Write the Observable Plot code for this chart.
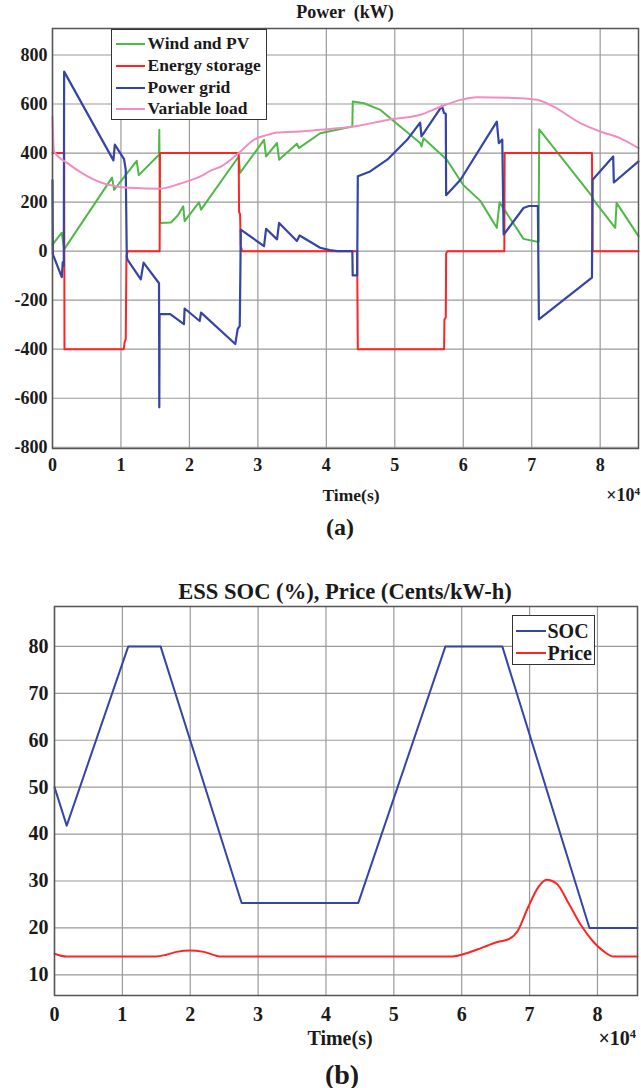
<!DOCTYPE html>
<html><head><meta charset="utf-8">
<script src="https://cdn.jsdelivr.net/npm/d3@7"></script>
<script src="https://cdn.jsdelivr.net/npm/@observablehq/plot@0.6"></script>
<style>
body{margin:0;background:#fff;width:641px;height:1088px;position:relative;overflow:hidden;
 font-family:"Liberation Serif","Times New Roman",serif;font-weight:bold;color:#1a1a1a;}
.t{position:absolute;white-space:pre;line-height:1;transform:translate(-50%,-50%);}
.r{position:absolute;white-space:pre;line-height:1;transform:translate(-100%,-50%);}
.leg{position:absolute;border:1.4px solid #333;background:#fff;box-sizing:border-box;}
.row{position:absolute;left:0;white-space:pre;line-height:1;}
</style></head><body>
<div id="topChart" style="position:absolute;left:0;top:0"></div>
<div id="botChart" style="position:absolute;left:0;top:560px"></div>
<script>
// ---------- data ----------
const timeTicks = [0, 10000, 20000, 30000, 40000, 50000, 60000, 70000, 80000];
const powerTicks = [-800, -600, -400, -200, 0, 200, 400, 600, 800];
const socTicks = [10, 20, 30, 40, 50, 60, 70, 80];

// Power (kW): [time s, kW]
const windPV = [[0,27],[1360,75],[1700,7],[8700,300],[9000,250],[12300,368],[12600,310],[15550,393],[15600,495],[15700,115],
 [17300,117],[18300,145],[19100,183],[19300,122],[21400,199],[21700,169],[27200,386],[27400,319],[30900,454],[31200,386],
 [32800,441],[33100,373],[35700,438],[36000,420],[39100,481],[43800,508],[43860,610],[45500,603],[47900,576],[50800,508],
 [53700,441],[53900,427],[54200,460],[57600,373],[60000,270],[62500,205],[64900,95],[65300,199],[68800,50],[70800,38],
 [71000,38],[71100,497],[78800,224],[79000,210],[82200,95],[82400,197],[85600,61]];
const energyStorage = [[0,400],[1700,400],[1750,-400],[10400,-400],[10550,-370],[10700,-360],[10800,-20],[11000,0],
 [15650,0],[15700,400],[27200,400],[27250,160],[27400,150],[27500,20],[27700,0],[44500,0],[44600,-400],[57200,-400],
 [57250,-280],[57450,-270],[57500,-10],[57700,0],[66000,0],[66050,400],[78800,400],[78900,0],[85600,0]];
const powerGrid = [[0,290],[50,-13],[1360,-106],[1500,-45],[1650,-60],[1700,732],[8900,370],[9100,434],[10450,375],
 [10700,332],[10850,-20],[10950,-35],[12900,-115],[13300,-47],[15560,-131],[15600,-637],[15640,-257],[17200,-257],
 [19200,-298],[19300,-234],[21500,-285],[21700,-251],[26700,-379],[27050,-318],[27350,-305],[27450,-68],[27500,88],
 [30900,20],[31200,91],[32800,48],[33100,115],[35700,41],[36100,64],[39100,14],[40500,4],[41600,0],[43800,0],[43850,-99],
 [44500,-99],[44600,305],[46400,325],[48900,373],[51800,454],[53700,524],[53900,468],[56900,592],[57200,563],[57450,560],
 [57500,228],[59600,291],[64900,528],[65200,440],[65700,455],[65900,68],[66200,78],[68800,176],[69600,184],[70900,184],
 [71050,-278],[78800,-108],[78900,291],[81900,386],[82000,280],[85600,366]];
const variableLoad = [[0,549],[230,406],[2190,359],[4500,315],[7050,280],[9000,266],[12000,257],[15550,254],[18700,276],
 [21600,305],[23100,328],[24600,345],[27200,400],[29400,454],[31400,474],[32800,484],[36200,488],[39100,495],[44000,508],
 [48900,535],[53700,556],[56700,589],[59600,617],[62000,628],[68300,624],[70800,617],[73200,589],[77100,522],[80000,488],
 [82900,461],[85600,420]];

// SOC (%) and price (cents/kWh): [time s, value]
const soc = [[0,50],[1800,41.8],[10870,80],[15630,80],[27570,25.3],[44750,25.3],[57600,80],[65980,80],[78820,20],[85900,20]];
const price = [[0,14.5],[1800,13.9],[14900,13.9],[16500,14.3],[18000,14.9],[20030,15.2],[22000,14.9],[24550,13.9],
 [58600,13.9],[60730,14.6],[62300,15.4],[63750,16.2],[65250,17.0],[67070,17.7],[68270,19.4],[69780,24.4],[71290,28.7],
 [72490,30.25],[74000,29.4],[75810,25.1],[77610,20.5],[79420,17.0],[80930,15.0],[82430,13.9],[85900,13.9]];

// ---------- style ----------
const C = {green:"#4fb948", red:"#ff2424", blue:"#3445a6", pink:"#f28cc2", grid:"#9a9a9a", frame:"#555"};
const FONT = "'Liberation Serif','Times New Roman',serif";
const X = d => d[0], Y = d => d[1];

const topPlot = Plot.plot({
  width: 641, height: 540,
  marginTop: 28, marginLeft: 52, marginRight: 3, marginBottom: 92,
  style: {fontFamily: FONT, fontWeight: "bold", fontSize: "18px", color: "#1a1a1a", background: "transparent", overflow: "visible"},
  x: {domain: [0, 85600]},
  y: {domain: [-805, 908]},
  marks: [
    Plot.gridX(timeTicks, {stroke: C.grid, strokeOpacity: 1, strokeWidth: 1.2}),
    Plot.gridY(powerTicks, {stroke: C.grid, strokeOpacity: 1, strokeWidth: 1.2}),
    Plot.line(windPV, {x: X, y: Y, stroke: C.green, strokeWidth: 2}),
    Plot.line(energyStorage, {x: X, y: Y, stroke: C.red, strokeWidth: 2}),
    Plot.line(powerGrid, {x: X, y: Y, stroke: C.blue, strokeWidth: 2.2}),
    Plot.line(variableLoad, {x: X, y: Y, stroke: C.pink, strokeWidth: 2, curve: "monotone-x"}),
    Plot.frame({stroke: C.frame, strokeWidth: 1.5}),
    Plot.axisX(timeTicks, {tickSize: 0, tickPadding: 10, tickFormat: d => String(d / 1e4), label: null}),
    Plot.axisY(powerTicks, {tickSize: 0, tickPadding: 5, tickFormat: d => String(d), label: null})
  ]
});
document.getElementById("topChart").append(topPlot);

const botPlot = Plot.plot({
  width: 641, height: 528,
  marginTop: 46, marginLeft: 54, marginRight: 4, marginBottom: 93,
  style: {fontFamily: FONT, fontWeight: "bold", fontSize: "20px", color: "#1a1a1a", background: "transparent", overflow: "visible"},
  x: {domain: [0, 85900]},
  y: {domain: [5.6, 88.5]},
  marks: [
    Plot.gridX(timeTicks, {stroke: C.grid, strokeOpacity: 1, strokeWidth: 1.2}),
    Plot.gridY(socTicks, {stroke: C.grid, strokeOpacity: 1, strokeWidth: 1.2}),
    Plot.line(soc, {x: X, y: Y, stroke: C.blue, strokeWidth: 2}),
    Plot.line(price, {x: X, y: Y, stroke: C.red, strokeWidth: 2, curve: "monotone-x"}),
    Plot.frame({stroke: C.frame, strokeWidth: 1.5}),
    Plot.axisX(timeTicks, {tickSize: 0, tickPadding: 11, tickFormat: d => String(d / 1e4), label: null}),
    Plot.axisY(socTicks, {tickSize: 0, tickPadding: 6, tickFormat: d => String(d), label: null})
  ]
});
document.getElementById("botChart").append(botPlot);

// ---------- text & legends ----------
function txt(cls, x, y, size, html) {
  const d = document.createElement("div");
  d.className = cls; d.style.left = x + "px"; d.style.top = y + "px"; d.style.fontSize = size + "px";
  d.innerHTML = html; document.body.append(d);
}
txt("t", 345, 12, 18, "Power  (kW)");
txt("t", 351, 496, 17.5, "Time(s)");
txt("r", 640, 495, 18, "&times;10<sup style='font-size:0.62em;vertical-align:0.55em'>4</sup>");
txt("t", 340, 527, 24, "(a)");
txt("t", 345, 592, 22.6, "ESS SOC (%), Price (Cents/kW-h)");
txt("t", 340, 1038, 20, "Time(s)");
txt("r", 636, 1038, 20, "&times;10<sup style='font-size:0.62em;vertical-align:0.55em'>4</sup>");
txt("t", 342, 1075, 28, "(b)");

function legend(left, top, w, h, size, items, rowY, lineX0, lineX1, textX) {
  const box = document.createElement("div");
  box.className = "leg";
  Object.assign(box.style, {left: left + "px", top: top + "px", width: w + "px", height: h + "px", fontSize: size + "px"});
  items.forEach(([label, color], i) => {
    const l = document.createElement("span");
    Object.assign(l.style, {position: "absolute", left: (lineX0 - left) + "px", width: (lineX1 - lineX0) + "px",
      top: (rowY[i] - top - 1) + "px", height: "0", borderTop: "2.2px solid " + color});
    box.append(l);
    const t = document.createElement("div");
    t.className = "row";
    Object.assign(t.style, {left: (textX - left) + "px", top: (rowY[i] - top) + "px", transform: "translateY(-50%)"});
    t.textContent = label;
    box.append(t);
  });
  document.body.append(box);
}
legend(111, 29, 156, 91, 17.5,
  [["Wind and PV", C.green], ["Energy storage", C.red], ["Power grid", C.blue], ["Variable load", C.pink]],
  [42.7, 64.7, 86.7, 108.3], 115, 144, 146.5);
legend(512, 615, 83, 50, 20, [["SOC", C.blue], ["Price", C.red]], [630, 652.3], 515, 545, 546.5);
</script>
</body></html>
